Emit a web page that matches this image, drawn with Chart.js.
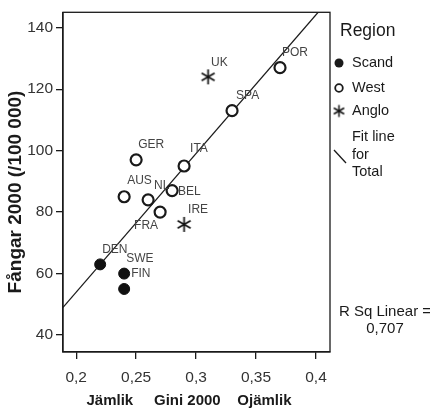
<!DOCTYPE html>
<html>
<head>
<meta charset="utf-8">
<script src="https://cdn.jsdelivr.net/npm/chart.js@4/dist/chart.umd.min.js"></script>
<style>
  html, body { margin: 0; padding: 0; background: #fff; }
  #wrap { width: 430px; height: 410px; }
</style>
</head>
<body>
<div id="wrap"><canvas id="chart" width="430" height="410"></canvas></div>
<script>
// data
const scandNames = ["DEN", "SWE", "FIN"];
const scandGini = [0.22, 0.24, 0.24];
const scandPrison = [63, 60, 55];

const westNames = ["GER", "AUS", "NL", "FRA", "BEL", "ITA", "SPA", "POR"];
const westGini = [0.25, 0.24, 0.26, 0.27, 0.28, 0.29, 0.33, 0.37];
const westPrison = [97, 85, 84, 80, 87, 95, 113, 127];

const angloNames = ["UK", "IRE"];
const angloGini = [0.31, 0.29];
const angloPrison = [124, 76];

const fitGini = [0.189, 0.412];
const fitPrison = [49, 149.6];

const xTicks = [0.2, 0.25, 0.3, 0.35, 0.4];
const yTicks = [40, 60, 80, 100, 120, 140];
const rSquared = "0,707";

// label placement (px from point: text left, text middle)
const labelOffset = {
  UK: [3, -14], POR: [2, -15], SPA: [4, -15], GER: [2, -15], ITA: [6, -17],
  AUS: [3, -16], NL: [6, -14], BEL: [6, 1], FRA: [-26, 14], IRE: [4, -15],
  DEN: [2, -15], SWE: [2, -15], FIN: [7, -15]
};

const FONT = "'Liberation Sans', Arial, sans-serif";
const INK = "#1a1a1a";

function toPoints(xs, ys) {
  return xs.map((x, i) => ({ x: x, y: ys[i] }));
}

function makeStar(r, lw) {
  const c = document.createElement("canvas");
  const s = Math.ceil(r * 2 + lw * 2);
  c.width = s; c.height = s;
  const g = c.getContext("2d");
  g.strokeStyle = "#111";
  g.lineWidth = lw;
  g.lineCap = "butt";
  const m = s / 2;
  for (let k = 0; k < 6; k++) {
    const a = (k * 60 + 90) * Math.PI / 180;
    g.beginPath();
    g.moveTo(m, m);
    g.lineTo(m + r * Math.cos(a), m + r * Math.sin(a));
    g.stroke();
  }
  return c;
}
const star = makeStar(7.5, 1.7);
const starSmall = makeStar(6, 1.5);

const fmt = v => String(Math.round(v * 100) / 100).replace(".", ",");

const extras = {
  id: "extras",
  afterDatasetsDraw(chart) {
    const ctx = chart.ctx;
    const a = chart.chartArea;
    ctx.save();
    // frame
    ctx.strokeStyle = INK;
    ctx.lineWidth = 1.3;
    ctx.strokeRect(a.left, a.top, a.right - a.left, a.bottom - a.top);

    // point labels
    ctx.font = "12px " + FONT;
    ctx.fillStyle = "#444";
    ctx.textAlign = "left";
    ctx.textBaseline = "middle";
    const groups = [scandNames, westNames, angloNames];
    groups.forEach((names, di) => {
      const meta = chart.getDatasetMeta(di);
      names.forEach((n, j) => {
        const p = meta.data[j];
        const o = labelOffset[n];
        ctx.fillText(n, p.x + o[0], p.y + o[1]);
      });
    });

    // axis titles
    ctx.fillStyle = INK;
    ctx.font = "bold 15px " + FONT;
    ctx.textAlign = "center";
    ctx.fillText("Jämlik     Gini 2000    Ojämlik", 189, 401);
    ctx.save();
    ctx.translate(16, 192);
    ctx.rotate(-Math.PI / 2);
    ctx.font = "bold 19px " + FONT;
    ctx.fillText("Fångar 2000 (/100 000)", 0, 0);
    ctx.restore();

    // legend
    ctx.textAlign = "left";
    ctx.font = "17.5px " + FONT;
    ctx.fillText("Region", 340, 31);
    ctx.font = "14.5px " + FONT;
    ctx.fillText("Scand", 352, 63);
    ctx.fillText("West", 352, 88);
    ctx.fillText("Anglo", 352, 111);
    ctx.fillText("Fit line", 352, 137);
    ctx.fillText("for", 352, 155);
    ctx.fillText("Total", 352, 172);

    ctx.beginPath();
    ctx.arc(339, 63, 4.5, 0, Math.PI * 2);
    ctx.fill();
    ctx.beginPath();
    ctx.lineWidth = 1.8;
    ctx.arc(339, 88, 3.8, 0, Math.PI * 2);
    ctx.stroke();
    ctx.drawImage(starSmall, 339 - starSmall.width / 2, 111 - starSmall.height / 2);
    ctx.lineWidth = 1.3;
    ctx.beginPath();
    ctx.moveTo(334, 150);
    ctx.lineTo(346, 163);
    ctx.stroke();

    // r squared
    ctx.textAlign = "center";
    ctx.font = "15px " + FONT;
    ctx.fillText("R Sq Linear =", 385, 312);
    ctx.fillText(rSquared, 385, 329);
    ctx.restore();
  }
};

new Chart(document.getElementById("chart"), {
  type: "scatter",
  data: {
    datasets: [
      {
        label: "Scand",
        data: toPoints(scandGini, scandPrison),
        pointStyle: "circle",
        pointRadius: 5.5,
        backgroundColor: "#111",
        borderColor: "#111",
        borderWidth: 1
      },
      {
        label: "West",
        data: toPoints(westGini, westPrison),
        pointStyle: "circle",
        pointRadius: 5.5,
        backgroundColor: "#fff",
        borderColor: INK,
        borderWidth: 2.2
      },
      {
        label: "Anglo",
        data: toPoints(angloGini, angloPrison),
        pointStyle: star,
        pointRadius: 7
      },
      {
        type: "line",
        label: "Fit line for Total",
        data: toPoints(fitGini, fitPrison),
        borderColor: INK,
        borderWidth: 1.3,
        pointRadius: 0,
        fill: false,
        clip: 0,
        order: 5
      }
    ]
  },
  options: {
    responsive: false,
    animation: false,
    events: [],
    layout: { padding: { top: 9, right: 100, left: 0, bottom: 0 } },
    plugins: {
      legend: { display: false },
      tooltip: { enabled: false }
    },
    scales: {
      x: {
        type: "linear",
        min: 0.189,
        max: 0.4117,
        afterBuildTicks: s => { s.ticks = xTicks.map(v => ({ value: v })); },
        afterFit: s => { s.height = 58; },
        grid: { drawOnChartArea: false, drawTicks: true, tickLength: 7, color: INK, lineWidth: 1.3 },
        border: { display: true, color: INK, width: 1.3 },
        ticks: {
          padding: 9,
          color: "#333",
          font: { family: FONT, size: 15.5 },
          callback: v => fmt(v)
        }
      },
      y: {
        type: "linear",
        min: 34.5,
        max: 145,
        afterBuildTicks: s => { s.ticks = yTicks.map(v => ({ value: v })); },
        afterFit: s => { s.width = 63; },
        grid: { drawOnChartArea: false, drawTicks: true, tickLength: 7, color: INK, lineWidth: 1.3 },
        border: { display: true, color: INK, width: 1.3 },
        ticks: {
          padding: 3,
          color: "#333",
          font: { family: FONT, size: 15.5 },
          callback: v => String(v)
        }
      }
    }
  },
  plugins: [extras]
});
</script>
</body>
</html>
